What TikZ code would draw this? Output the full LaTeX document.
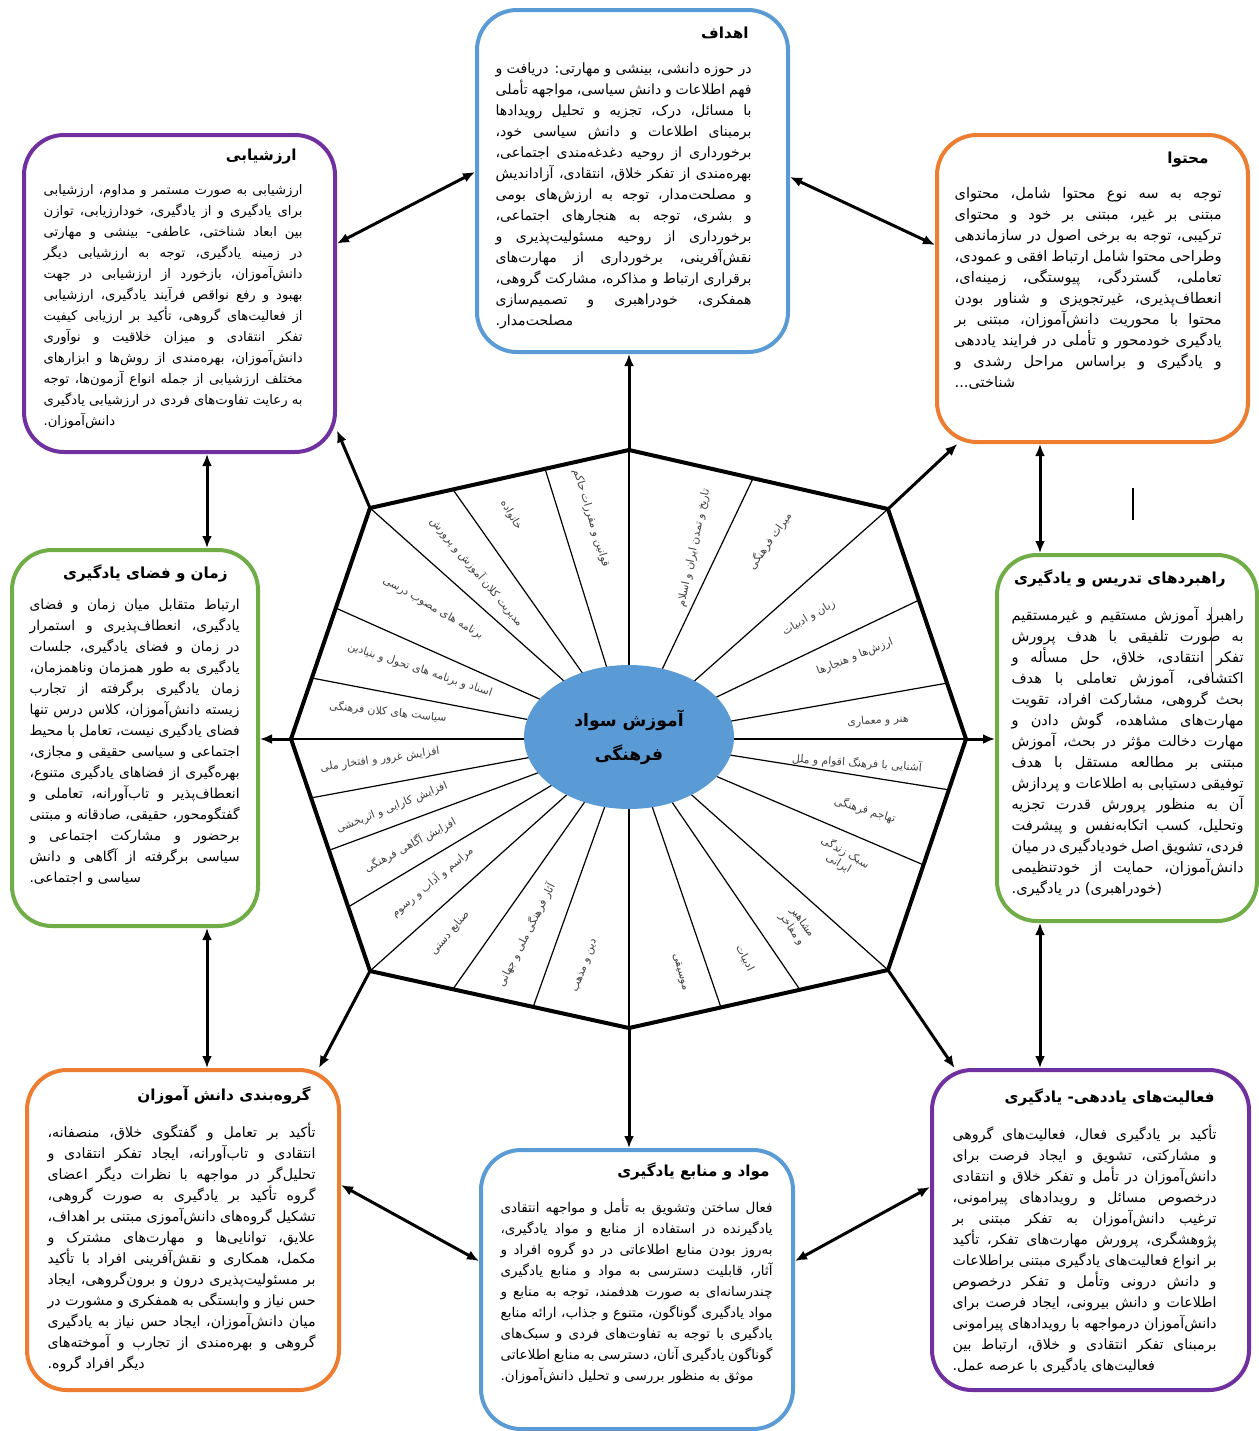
\documentclass[tikz,border=0pt]{standalone}
\usepackage{fontspec}
\usetikzlibrary{arrows.meta,shapes.geometric,calc}
\newfontfamily\fa[Script=Arabic]{DejaVu Sans}
\TeXXeTstate=1
\definecolor{cblue}{HTML}{5B9BD5}
\definecolor{corange}{HTML}{ED7D31}
\definecolor{cgreen}{HTML}{70AD47}
\definecolor{cpurple}{HTML}{7030A0}
\tikzset{
  box/.style={draw, line width=2pt, rounded corners=20pt, fill=white, inner sep=0pt},
  body/.style={font={\fa\fontsize{#1}{10.5}\selectfont}, align=justify, inner sep=0pt, anchor=north east},
  ttl/.style={font={\fa\bfseries\fontsize{7.6}{9}\selectfont}, inner sep=0pt, anchor=east},
  lab/.style={font={\fa\fontsize{5.4}{6.5}\selectfont}, text=black!75, inner sep=0pt},
  spoke/.style={line width=0.6pt},
  arr/.style={line width=1.5pt, -{Latex[length=6pt,width=5pt]}},
  biarr/.style={line width=1.5pt, {Latex[length=6pt,width=5pt]}-{Latex[length=6pt,width=5pt]}},
}
\begin{document}
\begin{tikzpicture}[x=0.5pt,y=-0.5pt]
\useasboundingbox (0,0) rectangle (1259,1431);
\fill[white] (0,0) rectangle (1259,1431);

% octagon vertices
\coordinate (oT) at (629,450);
\coordinate (oTR) at (888,509);
\coordinate (oR) at (966,739);
\coordinate (oBR) at (888,970);
\coordinate (oB) at (629,1028);
\coordinate (oBL) at (370,971);
\coordinate (oL) at (291,739);
\coordinate (oTL) at (370,508);
\coordinate (cc) at (629,739);

% spokes
\foreach \p in {oT,oTR,oR,oBR,oB,oBL,oL,oTL}{\draw[spoke] (cc) -- (\p);}
\draw[spoke] (cc) -- ($(oL)!0.264!(oTL)$);
\draw[spoke] (cc) -- ($(oL)!0.567!(oTL)$);
\draw[spoke] (cc) -- ($(oTL)!0.32!(oT)$);
\draw[spoke] (cc) -- ($(oTL)!0.676!(oT)$);
\draw[spoke] (cc) -- ($(oT)!0.479!(oTR)$);
\draw[spoke] (cc) -- ($(oTR)!0.396!(oR)$);
\draw[spoke] (cc) -- ($(oTR)!0.757!(oR)$);
\draw[spoke] (cc) -- ($(oR)!0.22!(oBR)$);
\draw[spoke] (cc) -- ($(oR)!0.545!(oBR)$);
\draw[spoke] (cc) -- ($(oBR)!0.34!(oB)$);
\draw[spoke] (cc) -- ($(oBR)!0.645!(oB)$);
\draw[spoke] (cc) -- ($(oB)!0.37!(oBL)$);
\draw[spoke] (cc) -- ($(oB)!0.68!(oBL)$);
\draw[spoke] (cc) -- ($(oBL)!0.276!(oL)$);
\draw[spoke] (cc) -- ($(oBL)!0.52!(oL)$);
\draw[spoke] (cc) -- ($(oBL)!0.746!(oL)$);

\draw[line width=2pt, line join=miter] (oT) -- (oTR) -- (oR) -- (oBR) -- (oB) -- (oBL) -- (oL) -- (oTL) -- cycle;

\node[ellipse, fill=cblue, minimum width=105pt, minimum height=72pt, inner sep=0pt,
  font={\fa\bfseries\fontsize{8.6}{17}\selectfont}, align=center] (core) at (629,737)
  {\beginR آموزش سواد\endR\\\beginR فرهنگی\endR};

% sector labels, left half
\node[lab, rotate=-6] (l1) at (388,712) {\beginR سیاست های کلان فرهنگی\endR};
\node[lab, rotate=-18] (l2) at (420,670) {\beginR اسناد و برنامه های تحول و بنیادین\endR};
\node[lab, rotate=-30] (l3) at (433,608) {\beginR برنامه های مصوب درسی\endR};
\node[lab, rotate=-50] (l4) at (477,572) {\beginR مدیریت کلان آموزش و پرورش\endR};
\node[lab, rotate=-60] (l5) at (511,515) {\beginR خانواده\endR};
\node[lab, rotate=-73] (l6) at (591,518) {\beginR قوانین و مقررات حاکم\endR};
\node[lab, rotate=8] (l7) at (380,760) {\beginR افزایش غرور و افتخار ملی\endR};
\node[lab, rotate=22] (l8) at (392,808) {\beginR افزایش کارایی و اثربخشی\endR};
\node[lab, rotate=28] (l9) at (410,845) {\beginR افزایش آگاهی فرهنگی\endR};
\node[lab, rotate=40] (l10) at (432,882) {\beginR مراسم و آداب و رسوم\endR};
\node[lab, rotate=50] (l11) at (450,933) {\beginR صنایع دستی\endR};
\node[lab, rotate=63] (l12) at (526,935) {\beginR آثار فرهنگی ملی و جهانی\endR};
\node[lab, rotate=70] (l13) at (585,966) {\beginR دین و مذهب\endR};
% sector labels, right half
\node[lab, rotate=78] (r1) at (694,548) {\beginR تاریخ و تمدن ایران و اسلام\endR};
\node[lab, rotate=55] (r2) at (770,541) {\beginR میراث فرهنگی\endR};
\node[lab, rotate=30] (r3) at (809,618) {\beginR زبان و ادبیات\endR};
\node[lab, rotate=22] (r4) at (855,657) {\beginR ارزش‌ها و هنجارها\endR};
\node[lab, rotate=4] (r5) at (878,721) {\beginR هنر و معماری\endR};
\node[lab, rotate=-4] (r6) at (857,763) {\beginR آشنایی با فرهنگ اقوام و ملل\endR};
\node[lab, rotate=-17] (r7) at (865,810) {\beginR تهاجم فرهنگی\endR};
\node[lab, rotate=-30, align=center] (r8) at (842,858) {\beginR سبک زندگی\endR\\\beginR ایرانی\endR};
\node[lab, rotate=-55, align=center] (r9) at (797,926) {\beginR مشاهیر\endR\\\beginR و مفاخر\endR};
\node[lab, rotate=-63] (r10) at (745,958) {\beginR ادبیات\endR};
\node[lab, rotate=-75] (r11) at (680,972) {\beginR موسیقی\endR};

% boxes
\node[box, draw=cblue, minimum width=155.5pt, minimum height=171pt] (goals) at (632.5,181) {};
\node[box, draw=cpurple, minimum width=155.5pt, minimum height=158.5pt] (eval) at (179.5,293.5) {};
\node[box, draw=corange, minimum width=155.5pt, minimum height=153.5pt] (content) at (1092.5,288.5) {};
\node[box, draw=cgreen, minimum width=123pt, minimum height=188pt] (time) at (135,738) {};
\node[box, draw=cgreen, minimum width=130pt, minimum height=183pt] (strat) at (1127,738) {};
\node[box, draw=corange, minimum width=156pt, minimum height=160pt] (group) at (183,1230) {};
\node[box, draw=cblue, minimum width=156pt, minimum height=139.5pt] (materials) at (637,1289.5) {};
\node[box, draw=cpurple, minimum width=158.5pt, minimum height=160pt] (act) at (1090.5,1230) {};

% titles
\node[ttl] (goalsH) at (749,33) {\beginR اهداف\endR};
\node[ttl] (evalH) at (297,157) {\beginR ارزشیابی\endR};
\node[ttl] (contentH) at (1209,160) {\beginR محتوا\endR};
\node[ttl] (timeH) at (228,573) {\beginR زمان و فضای یادگیری\endR};
\node[ttl] (stratH) at (1226,578) {\beginR راهبردهای تدریس و یادگیری\endR};
\node[ttl] (groupH) at (311,1095) {\beginR گروه‌بندی دانش آموزان\endR};
\node[ttl] (materialsH) at (770,1171) {\beginR مواد و منابع یادگیری\endR};
\node[ttl] (actH) at (1215,1097) {\beginR فعالیت‌های یاددهی- یادگیری\endR};

% bodies
\node[body=7.05, text width=128pt] (goalsB) at (752,62) {\beginR در حوزه دانشی، بینشی و مهارتی: دریافت و فهم اطلاعات و دانش سیاسی، مواجهه تأملی با مسائل، درک، تجزیه و تحلیل رویدادها برمبنای اطلاعات و دانش سیاسی خود، برخورداری از روحیه دغدغه‌مندی اجتماعی، بهره‌مندی از تفکر خلاق، انتقادی، آزاداندیش و مصلحت‌مدار، توجه به ارزش‌های بومی و بشری، توجه به هنجارهای اجتماعی، برخورداری از روحیه مسئولیت‌پذیری و نقش‌آفرینی، برخورداری از مهارت‌های برقراری ارتباط و مذاکره، مشارکت گروهی، همفکری، خودراهبری و تصمیم‌سازی مصلحت‌مدار.\endR};

\node[body=6.6, text width=129.5pt] (evalB) at (303,184) {\beginR ارزشیابی به صورت مستمر و مداوم، ارزشیابی برای یادگیری و از یادگیری، خودارزیابی، توازن بین ابعاد شناختی، عاطفی- بینشی و مهارتی در زمینه یادگیری، توجه به ارزشیابی دیگر دانش‌آموزان، بازخورد از ارزشیابی در جهت بهبود و رفع نواقص فرآیند یادگیری، ارزشیابی از فعالیت‌های گروهی، تأکید بر ارزیابی کیفیت تفکر انتقادی و میزان خلاقیت و نوآوری دانش‌آموزان، بهره‌مندی از روش‌ها و ابزارهای مختلف ارزشیابی از جمله انواع آزمون‌ها، توجه به رعایت تفاوت‌های فردی در ارزشیابی یادگیری دانش‌آموزان.\endR};

\node[body=7.3, text width=133.5pt] (contentB) at (1222,187) {\beginR توجه به سه نوع محتوا شامل، محتوای مبتنی بر غیر، مبتنی بر خود و محتوای ترکیبی، توجه به برخی اصول در سازماندهی وطراحی محتوا شامل ارتباط افقی و عمودی، تعاملی، گستردگی، پیوستگی، زمینه‌ای، انعطاف‌پذیری، غیرتجویزی و شناور بودن محتوا با محوریت دانش‌آموزان، مبتنی بر یادگیری خودمحور و تأملی در فرایند یاددهی و یادگیری و براساس مراحل رشدی و شناختی...\endR};

\node[body=6.9, text width=105pt] (timeB) at (240,599) {\beginR ارتباط متقابل میان زمان و فضای یادگیری، انعطاف‌پذیری و استمرار در زمان و فضای یادگیری، جلسات یادگیری به طور همزمان وناهمزمان، زمان یادگیری برگرفته از تجارب زیسته دانش‌آموزان، کلاس درس تنها فضای یادگیری نیست، تعامل با محیط اجتماعی و سیاسی حقیقی و مجازی، بهره‌گیری از فضاهای یادگیری متنوع، انعطاف‌پذیر و تاب‌آورانه، تعاملی و گفتگومحور، حقیقی، صادقانه و مبتنی برحضور و مشارکت اجتماعی و سیاسی برگرفته از آگاهی و دانش سیاسی و اجتماعی.\endR};

\node[body=7.3, text width=116pt] (stratB) at (1244,606) {\beginR راهبرد آموزش مستقیم و غیرمستقیم به صورت تلفیقی با هدف پرورش تفکر انتقادی، خلاق، حل مسأله و اکتشافی، آموزش تعاملی با هدف بحث گروهی، مشارکت افراد، تقویت مهارت‌های مشاهده، گوش دادن و مهارت دخالت مؤثر در بحث، آموزش مبتنی بر مطالعه مستقل با هدف توفیقی دستیابی به اطلاعات و پردازش آن به منظور پرورش قدرت تجزیه وتحلیل، کسب اتکا‌به‌نفس و پیشرفت فردی، تشویق اصل خودیادگیری در میان دانش‌آموزان، حمایت از خودتنظیمی (خودراهبری) در یادگیری.\endR};

\node[body=7.1, text width=134pt] (groupB) at (316,1122) {\beginR تأکید بر تعامل و گفتگوی خلاق، منصفانه، انتقادی و تاب‌آورانه، ایجاد تفکر انتقادی و تحلیل‌گر در مواجهه با نظرات دیگر اعضای گروه تأکید بر یادگیری به صورت گروهی، تشکیل گروه‌های دانش‌آموزی مبتنی بر اهداف، علایق، توانایی‌ها و مهارت‌های مشترک و مکمل، همکاری و نقش‌آفرینی افراد با تأکید بر مسئولیت‌پذیری درون و برون‌گروهی، ایجاد حس نیاز و وابستگی به همفکری و مشورت در میان دانش‌آموزان، ایجاد حس نیاز به یادگیری گروهی و بهره‌مندی از تجارب و آموخته‌های دیگر افراد گروه.\endR};

\node[body=6.75, text width=136pt] (materialsB) at (773,1198) {\beginR فعال ساختن وتشویق به تأمل و مواجهه انتقادی یادگیرنده در استفاده از منابع و مواد یادگیری، به‌روز بودن منابع اطلاعاتی در دو گروه افراد و آثار، قابلیت دسترسی به مواد و منابع یادگیری چندرسانه‌ای به صورت هدفمند، توجه به منابع و مواد یادگیری گوناگون، متنوع و جذاب، ارائه منابع یادگیری با توجه به تفاوت‌های فردی و سبک‌های گوناگون یادگیری آنان، دسترسی به منابع اطلاعاتی موثق به منظور بررسی و تحلیل دانش‌آموزان.\endR};

\node[body=7.1, text width=132pt] (actB) at (1217,1124) {\beginR تأکید بر یادگیری فعال، فعالیت‌های گروهی و مشارکتی، تشویق و ایجاد فرصت برای دانش‌آموزان در تأمل و تفکر خلاق و انتقادی درخصوص مسائل و رویدادهای پیرامونی، ترغیب دانش‌آموزان به تفکر مبتنی بر پژوهشگری، پرورش مهارت‌های تفکر، تأکید بر انواع فعالیت‌های یادگیری مبتنی براطلاعات و دانش درونی وتأمل و تفکر درخصوص اطلاعات و دانش بیرونی، ایجاد فرصت برای دانش‌آموزان درمواجهه با رویدادهای پیرامونی برمبنای تفکر انتقادی و خلاق، ارتباط بین فعالیت‌های یادگیری با عرصه عمل.\endR};

% arrows from octagon to boxes
\draw[arr] (oT) -- (oT |- goals.south);
\draw[arr] (oTL) -- (eval.-41);
\draw[arr] (oTR) -- (content.229);
\draw[arr] (oL) -- (oL -| time.east);
\draw[arr] (oR) -- (oR -| strat.west);
\draw[arr] (oBL) -- (group.50);
\draw[arr] (oB) -- (oB |- materials.north);
\draw[arr] (oBR) -- (act.130);

% arrows between boxes
\draw[biarr] ([yshift=4.5pt]goals.west) -- ([yshift=25pt]eval.east);
\draw[biarr] ([yshift=2pt]goals.east) -- ([yshift=21.75pt]content.west);
\draw[biarr] ([xshift=13.75pt]eval.south) -- ([xshift=13.75pt]eval.south |- time.north);
\draw[biarr] ([xshift=-26.25pt]content.south) -- ([xshift=-26.25pt]content.south |- strat.north);
\draw[biarr] ([xshift=36pt]time.south) -- ([xshift=36pt]time.south |- group.north);
\draw[biarr] ([xshift=-43.5pt]strat.south) -- ([xshift=-43.5pt]strat.south |- act.north);
\draw[biarr] ([yshift=22.5pt]group.east) -- ([yshift=14.25pt]materials.west);
\draw[biarr] ([yshift=14.25pt]materials.east) -- ([yshift=21.5pt]act.west);

% stray marks
\draw[line width=0.8pt] (1133,488) -- (1133,520);
\draw[line width=0.3pt, black!70] (1211,607) -- (1211,672);
\end{tikzpicture}
\end{document}
